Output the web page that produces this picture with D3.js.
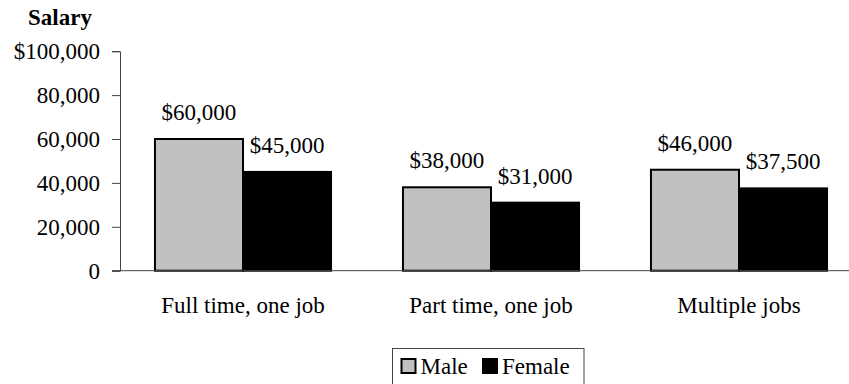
<!DOCTYPE html>
<html>
<head>
<meta charset="utf-8">
<script src="https://cdn.jsdelivr.net/npm/d3@7"></script>
<style>
	body { margin: 0; background: #fff; }
	svg { display: block; }
</style>
</head>
<body>
<svg id="chart" width="849" height="384"></svg>
<script>

const categories = ["Full time, one job", "Part time, one job", "Multiple jobs"];
const series = ["Male", "Female"];
const male_values = [60000, 38000, 46000];
const female_values = [45000, 31000, 37500];
const y_ticks = [0, 20000, 40000, 60000, 80000, 100000];
const tick_labels = ["0", "20,000", "40,000", "60,000", "80,000", "$100,000"];
const series_colors = ["#c0c0c0", "#000000"];

const svg = d3.select("#chart");

const y = d3.scaleLinear()
	.domain([0, 100000])
	.range([270.7, 51.2]);

const x0 = d3.scaleBand()
	.domain(categories)
	.range([119, 863])
	.paddingInner(0.29)
	.paddingOuter(0.145);

const x1 = d3.scaleBand()
	.domain(series)
	.range([0, x0.bandwidth()]);

const color = d3.scaleOrdinal().domain(series).range(series_colors);

// table built from the arrays
const table = categories.map((c, i) => ({
	category: c,
	values: [
		{key: "Male", value: male_values[i]},
		{key: "Female", value: female_values[i]}
	]
}));

// y axis
const y_axis = d3.axisLeft(y)
	.tickValues(y_ticks)
	.tickSize(8)
	.tickPadding(12)
	.tickFormat((d, i) => tick_labels[i]);

const y_g = svg.append("g")
	.attr("transform", "translate(120,0)")
	.call(y_axis);
y_g.attr("font-family", null).attr("font-size", null);
y_g.select(".domain").attr("stroke", "#444");
y_g.selectAll(".tick line").attr("stroke", "#444");

svg.append("text")
	.attr("x", 60)
	.attr("y", 25)
	.attr("text-anchor", "middle")
	.attr("class", "title")
	.text("Salary");

// bars
const groups = svg.selectAll("g.group")
	.data(table)
	.enter().append("g")
	.attr("class", "group")
	.attr("transform", d => "translate(" + x0(d.category) + ",0)");

groups.selectAll("rect")
	.data(d => d.values)
	.enter().append("rect")
	.attr("x", d => x1(d.key))
	.attr("y", d => y(d.value))
	.attr("width", x1.bandwidth())
	.attr("height", d => y(0) - y(d.value))
	.attr("fill", d => color(d.key))
	.attr("stroke", "#000")
	.attr("stroke-width", 2);

groups.selectAll("text.val")
	.data(d => d.values)
	.enter().append("text")
	.attr("class", "val")
	.attr("x", d => x1(d.key) + x1.bandwidth() / 2)
	.attr("y", d => y(d.value) - 19)
	.attr("text-anchor", "middle")
	.text(d => "$" + d3.format(",")(d.value));

// x baseline
svg.append("line")
	.attr("x1", 112)
	.attr("x2", 849)
	.attr("y1", y(0))
	.attr("y2", y(0))
	.attr("stroke", "#444")
	.attr("stroke-width", 1);

// category labels
svg.selectAll("text.cat")
	.data(categories)
	.enter().append("text")
	.attr("class", "cat")
	.attr("x", d => x0(d) + x0.bandwidth() / 2)
	.attr("y", 313)
	.attr("text-anchor", "middle")
	.text(d => d);

// legend
const legend = svg.append("g").attr("transform", "translate(392.5,348.5)");
legend.append("rect")
	.attr("width", 191.5)
	.attr("height", 40)
	.attr("fill", "#fff")
	.attr("stroke", "#444")
	.attr("stroke-width", 1);

const legend_offsets = [8, 89.5];
const items = legend.selectAll("g.item")
	.data(series)
	.enter().append("g")
	.attr("class", "item")
	.attr("transform", (d, i) => "translate(" + legend_offsets[i] + ",0)");

items.append("rect")
	.attr("x", 1)
	.attr("y", 10.5)
	.attr("width", 14)
	.attr("height", 14)
	.attr("fill", d => color(d))
	.attr("stroke", "#000")
	.attr("stroke-width", 2);

items.append("text")
	.attr("x", 20)
	.attr("y", 25.5)
	.text(d => d);

// one font for every text
svg.selectAll("text")
	.attr("font-family", "Liberation Serif")
	.attr("font-size", 23)
	.attr("fill", "#000");
svg.select("text.title").attr("font-weight", "bold");

</script>
</body>
</html>
